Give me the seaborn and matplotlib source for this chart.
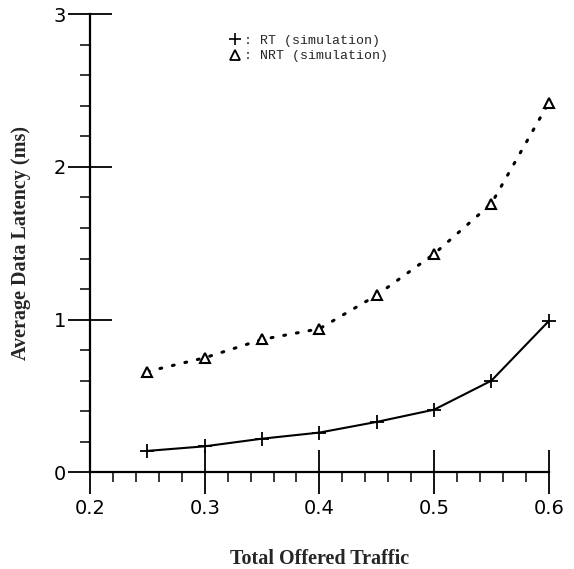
import matplotlib
matplotlib.use("Agg")
import matplotlib.pyplot as plt
from matplotlib.lines import Line2D
from matplotlib.ticker import MultipleLocator, FixedLocator
import seaborn as sns
import pandas as pd

# ---- data ----
traffic = [0.25, 0.30, 0.35, 0.40, 0.45, 0.50, 0.55, 0.60]
rt_latency = [0.14, 0.17, 0.22, 0.26, 0.33, 0.41, 0.60, 0.99]
nrt_latency = [0.66, 0.75, 0.87, 0.94, 1.16, 1.43, 1.76, 2.42]
x_ticks = [0.2, 0.3, 0.4, 0.5, 0.6]
x_tick_labels = ["0.2", "0.3", "0.4", "0.5", "0.6"]
y_ticks = [0, 1, 2, 3]
y_tick_labels = ["0", "1", "2", "3"]
legend_labels = [": RT (simulation)", ": NRT (simulation)"]
x_title = "Total Offered Traffic"
y_title = "Average Data Latency (ms)"

df_rt = pd.DataFrame({"traffic": traffic, "latency": rt_latency})
df_nrt = pd.DataFrame({"traffic": traffic, "latency": nrt_latency})

sns.set_style("white")
plt.rcParams["font.family"] = ["DejaVu Sans"]

fig = plt.figure(figsize=(5.74, 5.69), dpi=100)
ax = fig.add_axes([0.157, 0.170, 0.799, 0.805])

sns.lineplot(data=df_rt, x="traffic", y="latency", ax=ax, color="black",
             linewidth=1.5, marker="+", markersize=10, markeredgewidth=1.3,
             markeredgecolor="black", clip_on=False)
sns.lineplot(data=df_nrt, x="traffic", y="latency", ax=ax, color="black",
             linewidth=2.2, linestyle=(0, (0.6, 3.6)), dash_capstyle="round",
             clip_on=False)
sns.lineplot(data=df_nrt, x="traffic", y="latency", ax=ax, color="black",
             linewidth=0, marker="^", markersize=6.5, markeredgewidth=1.5,
             markerfacecolor="white", markeredgecolor="black", clip_on=False)

ax.set_xlim(0.2, 0.6)
ax.set_ylim(0, 3)
for s in ["top", "right"]:
    ax.spines[s].set_visible(False)
for s in ["left", "bottom"]:
    ax.spines[s].set_linewidth(1.6)
    ax.spines[s].set_color("black")

ax.xaxis.set_major_locator(FixedLocator(x_ticks))
ax.set_xticklabels(x_tick_labels)
ax.xaxis.set_minor_locator(MultipleLocator(0.02))
ax.yaxis.set_major_locator(FixedLocator(y_ticks))
ax.set_yticklabels(y_tick_labels)
ax.yaxis.set_minor_locator(MultipleLocator(0.2))

ax.tick_params(axis="both", which="both", bottom=True, left=True,
               top=False, right=False)
ax.tick_params(axis="both", which="major", direction="inout", length=31,
               width=1.3, colors="black", labelsize=14, pad=2)
ax.tick_params(axis="both", which="minor", direction="out", length=7,
               width=1.1, colors="black")
ax.tick_params(axis="x", which="major", pad=4)

ax.set_xlabel(x_title, family="Liberation Serif", fontweight="bold",
              fontsize=14.5, labelpad=22)
ax.set_ylabel(y_title, family="Liberation Serif", fontweight="bold",
              fontsize=14.5, labelpad=16)

handles = [
    Line2D([], [], linestyle="none", marker="+", markersize=9,
           markeredgewidth=1.2, color="black"),
    Line2D([], [], linestyle="none", marker="^", markersize=7,
           markeredgewidth=1.3, markerfacecolor="white", color="black"),
]
ax.legend(handles, legend_labels, loc="upper left",
          bbox_to_anchor=(0.29, 0.97), frameon=False, handlelength=0.8,
          handletextpad=0.3, labelspacing=0.25, borderpad=0,
          prop={"family": "Liberation Mono", "size": 9.5})

fig.savefig("out.png", dpi=100, facecolor="white")
